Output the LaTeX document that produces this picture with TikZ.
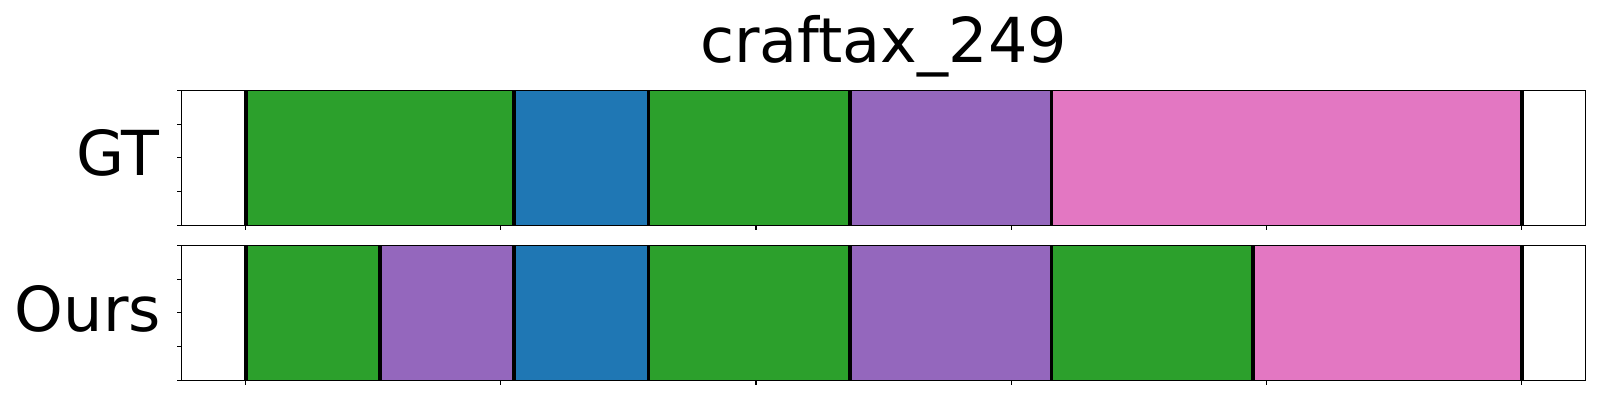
\documentclass[tikz,border=0pt]{standalone}
\usepackage{fontspec}
\setmainfont{DejaVu Sans}
\definecolor{tgreen}{HTML}{2CA02C}
\definecolor{tblue}{HTML}{1F77B4}
\definecolor{tpurple}{HTML}{9467BD}
\definecolor{tpink}{HTML}{E377C2}
\tikzset{
  frame/.style={draw=black, line width=1.1pt},
  bnd/.style={draw=black, line width=3.8pt},
  tickmark/.style={draw=black, line width=1.1pt},
  lbl/.style={font=\fontsize{62}{62}\selectfont, inner sep=0pt},
}
\begin{document}
\begin{tikzpicture}[x=1pt,y=-1pt]
\useasboundingbox (0,0) rectangle (1600,400);
\def\xo{245.6}
\def\u{67.16}
\def\xl{181.7}
\def\xr{1585.5}
% top axis (GT)
\def\ta{90.3}\def\tb{225.3}
\foreach \a/\b/\c in {0/4/tgreen,4/6/tblue,6/9/tgreen,9/12/tpurple,12/19/tpink}
  {\fill[\c] ({\xo+\a*\u},\ta) rectangle ({\xo+\b*\u},\tb);}
\foreach \n in {0,4,6,9,12,19}
  {\draw[bnd] ({\xo+\n*\u},\ta) -- ({\xo+\n*\u},\tb);}
\draw[frame] (\xl,\ta) rectangle (\xr,\tb);
\foreach \k in {0,...,5}
  {\draw[tickmark] ({\xo+\k*255.2},\tb) -- ++(0,5);}
\foreach \j in {0,...,4}
  {\draw[tickmark] (\xl,{\ta+\j*33.75}) -- ++(-5,0);}
% bottom axis (Ours)
\def\ba{245.3}\def\bb{380.3}
\foreach \a/\b/\c in {0/2/tgreen,2/4/tpurple,4/6/tblue,6/9/tgreen,9/12/tpurple,12/15/tgreen,15/19/tpink}
  {\fill[\c] ({\xo+\a*\u},\ba) rectangle ({\xo+\b*\u},\bb);}
\foreach \n in {0,2,4,6,9,12,15,19}
  {\draw[bnd] ({\xo+\n*\u},\ba) -- ({\xo+\n*\u},\bb);}
\draw[frame] (\xl,\ba) rectangle (\xr,\bb);
\foreach \k in {0,...,5}
  {\draw[tickmark] ({\xo+\k*255.2},\bb) -- ++(0,5);}
\foreach \j in {0,...,4}
  {\draw[tickmark] (\xl,{\ba+\j*33.75}) -- ++(-5,0);}
% labels
\node[lbl, anchor=base] (title) at (883.6,62.7) {craftax\_249};
\node[lbl, anchor=base east] (gt) at (160,175) {GT};
\node[lbl, anchor=base east] (ours) at (161,331) {Ours};
\end{tikzpicture}
\end{document}
